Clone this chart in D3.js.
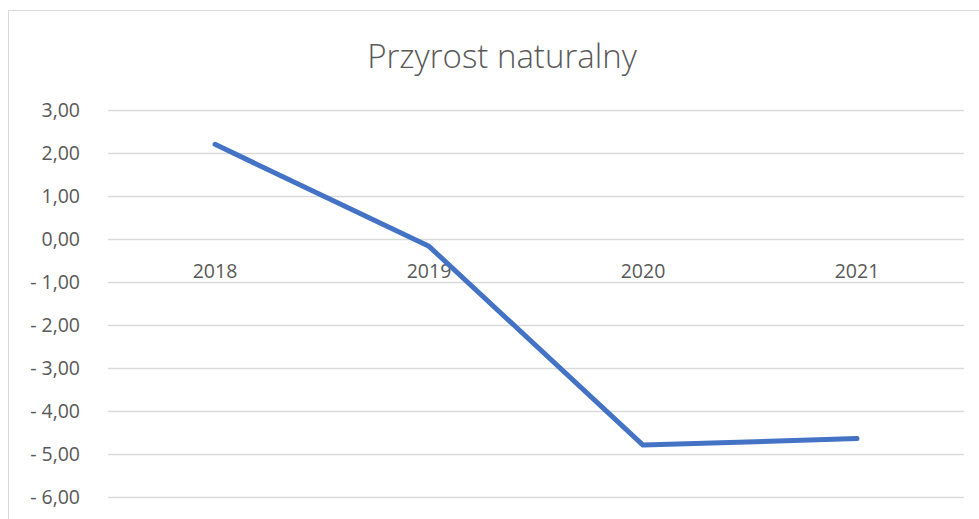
<!DOCTYPE html>
<html>
<head>
<meta charset="utf-8">
<script src="https://cdn.jsdelivr.net/npm/d3@7"></script>
<style>
  body { margin: 0; background: #fff; }
  text { font-family: "Open Sans", sans-serif; fill: #595959; }
</style>
</head>
<body>
<script>
const years = ["2018", "2019", "2020", "2021"];
const values = [2.19, -0.18, -4.8, -4.65];
const yTicks = [3, 2, 1, 0, -1, -2, -3, -4, -5, -6];
const title = "Przyrost naturalny";

const W = 979, H = 519;
const svg = d3.select("body").append("svg")
  .attr("width", W).attr("height", H);

// chart border
svg.append("rect")
  .attr("x", 8.5).attr("y", 10.5)
  .attr("width", 980).attr("height", 520)
  .attr("fill", "#fff").attr("stroke", "#d9d9d9");

const x = d3.scaleBand().domain(years).range([108, 964]);
const y = d3.scaleLinear().domain([-6, 3]).range([496.7, 109.5]);

const fmt = v => {
  const s = d3.format(".2f")(Math.abs(v)).replace(".", ",");
  return v < 0 ? "- " + s : s;
};

svg.append("text")
  .attr("x", 502).attr("y", 68)
  .attr("text-anchor", "middle")
  .attr("font-size", 33).attr("font-weight", 300)
  .text(title);

// gridlines
svg.append("g").selectAll("line")
  .data(yTicks).enter().append("line")
  .attr("x1", 108).attr("x2", 964)
  .attr("y1", d => Math.round(y(d)) + 0.5)
  .attr("y2", d => Math.round(y(d)) + 0.5)
  .attr("stroke", "#d9d9d9").attr("stroke-width", 1.3);

// y labels
svg.append("g").selectAll("text")
  .data(yTicks).enter().append("text")
  .attr("x", 80).attr("y", d => y(d) + 7)
  .attr("text-anchor", "end")
  .attr("font-size", 19.5)
  .text(fmt);

// x labels at zero line
svg.append("g").selectAll("text")
  .data(years).enter().append("text")
  .attr("x", d => x(d) + x.bandwidth() / 2)
  .attr("y", y(0) + 39)
  .attr("text-anchor", "middle")
  .attr("font-size", 19.5)
  .text(d => d);

const line = d3.line()
  .x((d, i) => x(years[i]) + x.bandwidth() / 2)
  .y(d => y(d));

svg.append("path")
  .datum(values)
  .attr("d", line)
  .attr("fill", "none")
  .attr("stroke", "#4472c4")
  .attr("stroke-width", 5)
  .attr("stroke-linecap", "round")
  .attr("stroke-linejoin", "round");
</script>
</body>
</html>
